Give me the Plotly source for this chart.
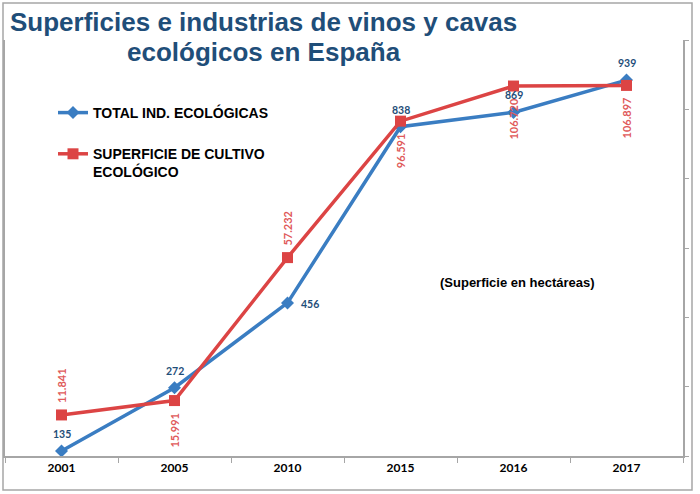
import plotly.graph_objects as go

years = ["2001", "2005", "2010", "2015", "2016", "2017"]
industrias = [135, 272, 456, 838, 869, 939]
superficie = [11841, 15991, 57232, 96591, 106720, 106897]
sup_label_above = [True, False, True, False, False, False]
ind_label_right = [False, False, True, False, False, False]

BLUE = "#3A7DC2"
RED = "#DC4444"
NAVY = "#1F4E79"
LRED = "#E05A5A"
GRAY = "#A6A6A6"

W, H = 700, 494
L, R, T, B = 5, 17, 40, 38
pw, ph = W - L - R, H - T - B


def px(x):
    return (x - L) / pw


def py(y):
    return (H - B - y) / ph


fig = go.Figure()
fig.add_trace(go.Scatter(
    x=years, y=industrias, name="TOTAL IND. ECOLÓGICAS", mode="lines+markers",
    line=dict(color=BLUE, width=3.5), marker=dict(symbol="diamond", size=10, color=BLUE),
    yaxis="y", legendgroup="a"))
fig.add_trace(go.Scatter(
    x=years, y=superficie, name="SUPERFICIE DE CULTIVO<br>ECOLÓGICO", mode="lines+markers",
    line=dict(color=RED, width=3.5), marker=dict(symbol="square", size=11, color=RED),
    yaxis="y2", legendgroup="b"))

annotations = []
for i, (v, right) in enumerate(zip(industrias, ind_label_right)):
    if right:
        annotations.append(dict(x=i, y=v, xref="x", yref="y", text=str(v), showarrow=False,
                                xanchor="left", yanchor="middle", xshift=11, yshift=-1,
                                font=dict(family="Lato", size=10.5, color=NAVY, weight="bold")))
    else:
        annotations.append(dict(x=i, y=v, xref="x", yref="y", text=str(v), showarrow=False,
                                xanchor="center", yanchor="bottom", yshift=9,
                                font=dict(family="Lato", size=10.5, color=NAVY, weight="bold")))
for i, (v, above) in enumerate(zip(superficie, sup_label_above)):
    txt = f"{v:,}".replace(",", ".")
    annotations.append(dict(x=i, y=v, xref="x", yref="y2", text=txt, showarrow=False,
                            textangle=-90, xanchor="center",
                            yanchor="bottom" if above else "top",
                            yshift=10 if above else -10,
                            font=dict(family="Lato", size=11, color=LRED, weight="bold")))

annotations.append(dict(x=px(263), y=py(22), xref="paper", yref="paper", showarrow=False,
                        text="Superficies e industrias de vinos y cavas", xanchor="center", yanchor="middle",
                        font=dict(family="Liberation Sans", size=26, color=NAVY, weight="bold")))
annotations.append(dict(x=px(264), y=py(52), xref="paper", yref="paper", showarrow=False,
                        text="ecológicos en España", xanchor="center", yanchor="middle",
                        font=dict(family="Liberation Sans", size=26, color=NAVY, weight="bold")))
annotations.append(dict(x=px(517), y=py(282), xref="paper", yref="paper", showarrow=False,
                        text="(Superficie en hectáreas)", xanchor="center", yanchor="middle",
                        font=dict(family="Liberation Sans", size=13, color="black", weight="bold")))

shapes = [dict(type="rect", xref="paper", yref="paper",
               x0=px(3), x1=px(692), y0=py(490), y1=py(3),
               line=dict(color=GRAY, width=1.5), fillcolor="rgba(0,0,0,0)", layer="below")]

fig.update_layout(
    width=W, height=H,
    margin=dict(l=L, r=R, t=T, b=B, autoexpand=False),
    paper_bgcolor="white", plot_bgcolor="white",
    showlegend=True,
    legend=dict(x=px(53), y=py(97), xanchor="left", yanchor="top",
                traceorder="grouped", tracegroupgap=20, valign="top",
                bgcolor="rgba(0,0,0,0)",
                font=dict(family="Liberation Sans", size=14, color="black", weight="bold")),
    xaxis=dict(type="category", range=[-0.5, len(years) - 0.5], showline=True, linecolor=GRAY,
               linewidth=1.5, ticks="outside", tickson="boundaries", ticklen=5, tickcolor=GRAY,
               showgrid=False, zeroline=False, automargin=False,
               tickfont=dict(family="Lato", size=12, color="black", weight="bold")),
    yaxis=dict(range=[124, 1026], showline=True, linecolor=GRAY, linewidth=1.5, automargin=False,
               showticklabels=False, showgrid=False, zeroline=False, ticks=""),
    yaxis2=dict(range=[0, 120000], overlaying="y", side="right", showline=True, automargin=False,
                linecolor=GRAY, linewidth=1.5, dtick=20000, ticks="outside", ticklen=4,
                tickcolor=GRAY, showticklabels=False, showgrid=False, zeroline=False),
    annotations=annotations,
    shapes=shapes,
)

fig.write_html("out.html", config={"displayModeBar": False},
               post_script="document.body.style.margin='0';document.body.style.overflow='hidden';")
